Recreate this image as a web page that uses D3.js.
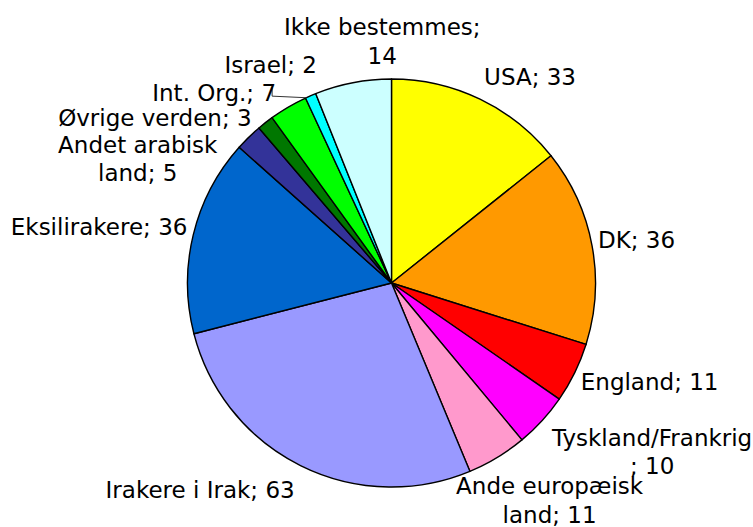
<!DOCTYPE html>
<html><head><meta charset="utf-8">
<script src="https://cdn.jsdelivr.net/npm/d3@7"></script>
<style>body{margin:0;background:#fff}svg{display:block}</style>
</head><body>
<script>
const categories = ["USA","DK","England","Tyskland/Frankrig","Ande europæisk land","Irakere i Irak","Eksilirakere","Andet arabisk land","Øvrige verden","Int. Org.","Israel","Ikke bestemmes"];
const values = [33,36,11,10,11,63,36,5,3,7,2,14];
const colors = ["#FFFF00","#FF9900","#FF0000","#FF00FF","#FF99CC","#9999FF","#0066CC","#333399","#007700","#00FF00","#00FFFF","#CCFFFF"];
// label text lines
const labelLines = [["USA; 33"],["DK; 36"],["England; 11"],["Tyskland/Frankrig","; 10"],["Ande europæisk","land; 11"],["Irakere i Irak; 63"],["Eksilirakere; 36"],["Andet arabisk","land; 5"],["Øvrige verden; 3"],["Int. Org.; 7"],["Israel; 2"],["Ikke bestemmes;","14"]];
// label nudges relative to point just outside the slice
const labelNudge = [[37,5],[15,0],[48,-4],[88,11],[37,17],[-87,-2],[-65,-1],[-90,43],[-92,19],[-59,12],[-28,-3],[35,-12]];

const W=753,H=527, cx=391.5, cy=283, r=204, lineH=28.5;
const svg=d3.select("body").append("svg").attr("width",W).attr("height",H);
const g=svg.append("g").attr("transform",`translate(${cx},${cy})`);
const pie=d3.pie().sort(null).value(d=>d)(values);
const arc=d3.arc().innerRadius(0).outerRadius(r);
const outer=d3.arc().innerRadius(r+30).outerRadius(r+30);
const edge=d3.arc().innerRadius(r).outerRadius(r);

g.selectAll("path").data(pie).join("path")
  .attr("d",arc).attr("fill",(d,i)=>colors[i])
  .attr("stroke","#000").attr("stroke-width",1.4).attr("stroke-linejoin","round");

// leader line for Israel
{
  const iIs = categories.indexOf("Israel");
  const iInt = categories.indexOf("Int. Org.");
  const p=edge.centroid(pie[iIs]);
  const q=outer.centroid(pie[iInt]);
  const lx=q[0]+labelNudge[iInt][0]+58, ly=q[1]+labelNudge[iInt][1];
  g.append("polyline").attr("points",`${lx},${ly-6} ${lx},${ly+3} ${p[0]-4},${p[1]+2}`)
   .attr("fill","none").attr("stroke","#333").attr("stroke-width",1);
}

pie.forEach((d,i)=>{
  const c=outer.centroid(d);
  const x=c[0]+labelNudge[i][0], y=c[1]+labelNudge[i][1];
  const lines=labelLines[i];
  const t=g.append("text").attr("text-anchor","middle")
    .attr("font-family","DejaVu Sans, Verdana, sans-serif").attr("font-size",23).attr("fill","#000");
  lines.forEach((s,k)=>{
    t.append("tspan").attr("x",x).attr("y",y+(k-(lines.length-1)/2)*lineH).attr("dy","0.35em").text(s);
  });
});
</script>
</body></html>
